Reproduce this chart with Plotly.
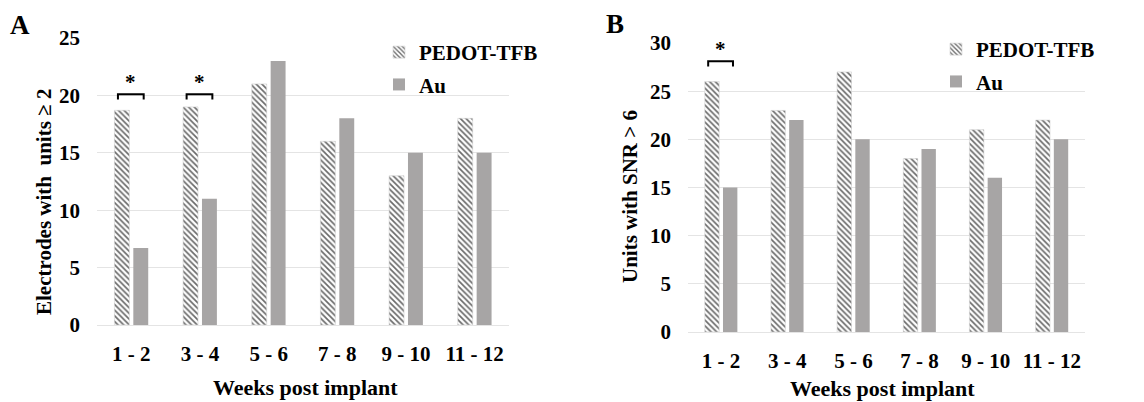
import plotly.graph_objects as go

weeks = ["1 - 2", "3 - 4", "5 - 6", "7 - 8", "9 - 10", "11 - 12"]
elec_pedot = [18.7, 19, 21, 16, 13, 18]
elec_au = [6.7, 11, 23, 18, 15, 15]
snr_pedot = [26, 23, 27, 18, 21, 22]
snr_au = [15, 22, 20, 19, 16, 20]
sig_A = [("1 - 2", 20.1), ("3 - 4", 20.1)]
sig_B = [("1 - 2", 28.1)]

FONT = "Liberation Serif, Times New Roman, serif"
AU_COLOR = "#a7a5a5"
HATCH_FG = "#6a6a6a"

# page body offsets the figure by 8px; lay out in window pixels
OFF = 8
W, H = 1144 - OFF, 402 - OFF
def px(x):
    return (x - OFF) / W
def py(y):
    return 1 - (y - OFF) / H

fig = go.Figure()

def hatch_bar(x, y, xa, ya, legend, grp):
    return go.Bar(x=x, y=y, name="PEDOT-TFB", xaxis=xa, yaxis=ya, legend=legend,
                  legendgroup=grp, showlegend=True,
                  marker=dict(color="white", line=dict(width=0.6, color="#d0d0d0"),
                              pattern=dict(shape="\\", fgcolor=HATCH_FG, bgcolor="white",
                                           size=4, solidity=0.42)))

def solid_bar(x, y, xa, ya, legend, grp):
    return go.Bar(x=x, y=y, name="Au", xaxis=xa, yaxis=ya, legend=legend,
                  legendgroup=grp, showlegend=True,
                  marker=dict(color=AU_COLOR, line=dict(width=0)))

fig.add_trace(hatch_bar(weeks, elec_pedot, "x", "y", "legend", "pA"))
fig.add_trace(solid_bar(weeks, elec_au, "x", "y", "legend", "aA"))
fig.add_trace(hatch_bar(weeks, snr_pedot, "x2", "y2", "legend2", "pB"))
fig.add_trace(solid_bar(weeks, snr_au, "x2", "y2", "legend2", "aB"))

tickfont = dict(family=FONT, size=21, color="black", weight="bold")
grid = "#e4e4e4"
legfont = dict(family=FONT, size=21, color="black", weight="bold")

fig.update_layout(
    template="none",
    width=W, height=H,
    margin=dict(l=0, r=0, t=0, b=0, autoexpand=False),
    paper_bgcolor="white", plot_bgcolor="white",
    barmode="group", bargap=0.45, bargroupgap=0.21,
    font=dict(family=FONT, color="black"),
    xaxis=dict(domain=[px(97), px(509)], anchor="y", showgrid=False, showline=False,
               automargin=False, ticks="", tickfont=tickfont, ticklabelstandoff=14,
               categoryorder="array", categoryarray=weeks),
    yaxis=dict(domain=[py(325), py(38)], anchor="x", range=[0, 25], dtick=5,
               automargin=False,
               showgrid=True, gridcolor=grid, gridwidth=1, zeroline=True,
               zerolinecolor=grid, zerolinewidth=1, showline=False, ticks="",
               tickfont=tickfont, ticklabelstandoff=16),
    xaxis2=dict(domain=[px(688), px(1085)], anchor="y2", showgrid=False, showline=False,
                automargin=False, ticks="", tickfont=tickfont, ticklabelstandoff=14,
                categoryorder="array", categoryarray=weeks),
    yaxis2=dict(domain=[py(332), py(43)], anchor="x2", range=[0, 30], dtick=5,
                automargin=False,
                showgrid=True, gridcolor=grid, gridwidth=1, zeroline=True,
                zerolinecolor=grid, zerolinewidth=1, showline=False, ticks="",
                tickfont=tickfont, ticklabelstandoff=16),
    legend=dict(x=px(379), y=py(32), xanchor="left", yanchor="top", font=legfont,
                bgcolor="rgba(0,0,0,0)", tracegroupgap=2, itemwidth=30),
    legend2=dict(x=px(936), y=py(29), xanchor="left", yanchor="top", font=legfont,
                 bgcolor="rgba(0,0,0,0)", tracegroupgap=2, itemwidth=30),
)

titlefont = dict(family=FONT, size=21, color="black", weight="bold")
xtitlefont = dict(family=FONT, size=22, color="black", weight="bold")
letterfont = dict(family=FONT, size=27, color="black", weight="bold")
anns = [
    dict(text="A", x=px(20), y=py(25), font=letterfont),
    dict(text="B", x=px(615), y=py(24), font=letterfont),
    dict(text="Electrodes with  units ≥ 2", x=px(44), y=py(202), textangle=-90, font=titlefont),
    dict(text="Units with SNR > 6", x=px(630), y=py(197), textangle=-90, font=titlefont),
    dict(text="Weeks post implant", x=px(305), y=py(387), font=xtitlefont),
    dict(text="Weeks post implant", x=px(882), y=py(388), font=xtitlefont),
]
for a in anns:
    fig.add_annotation(xref="paper", yref="paper", showarrow=False,
                       xanchor="center", yanchor="middle", **a)

def add_sig(cat, ytop, xa, ya, drop):
    i = weeks.index(cat)
    x0, x1 = i - 0.195, i + 0.18
    fig.add_shape(type="path", xref=xa, yref=ya,
                  path=f"M {x0} {ytop - drop} L {x0} {ytop} L {x1} {ytop} L {x1} {ytop - drop}",
                  line=dict(color="black", width=2))
    fig.add_annotation(x=(x0 + x1) / 2, y=ytop, xref=xa, yref=ya, text="*",
                       showarrow=False, yanchor="bottom", yshift=-2,
                       font=dict(family=FONT, size=21, color="black", weight="bold"))

for cat, yv in sig_A:
    add_sig(cat, yv, "x", "y", 0.45)
for cat, yv in sig_B:
    add_sig(cat, yv, "x2", "y2", 0.55)

fig.write_html("out.html")
